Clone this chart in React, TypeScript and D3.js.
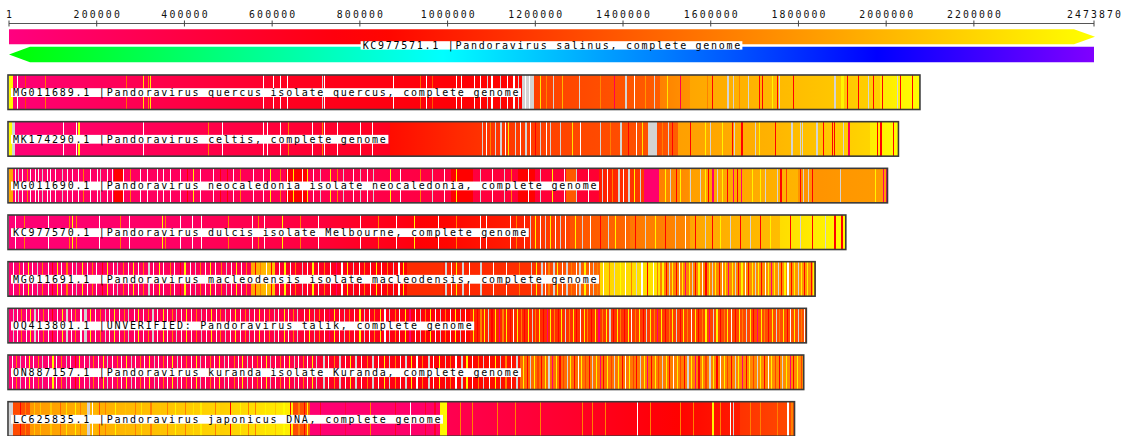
import React from 'react';
import * as d3 from 'd3';

// Reference genome and axis
const REF_NAME = 'KC977571.1 |Pandoravirus salinus, complete genome';
const REF_LEN = 2473870;
const tickValues = [1, 200000, 400000, 600000, 800000, 1000000, 1200000, 1400000, 1600000, 1800000, 2000000, 2200000, 2473870];
const tickLabels = ['1', '200000', '400000', '600000', '800000', '1000000', '1200000', '1400000', '1600000', '1800000', '2000000', '2200000', '2473870'];

// Compared genomes
const trackNames = [
  'MG011689.1 |Pandoravirus quercus isolate quercus, complete genome',
  'MK174290.1 |Pandoravirus celtis, complete genome',
  'MG011690.1 |Pandoravirus neocaledonia isolate neocaledonia, complete genome',
  'KC977570.1 |Pandoravirus dulcis isolate Melbourne, complete genome',
  'MG011691.1 |Pandoravirus macleodensis isolate macleodensis, complete genome',
  'OQ413801.1 |UNVERIFIED: Pandoravirus talik, complete genome',
  'ON887157.1 |Pandoravirus kuranda isolate Kuranda, complete genome',
  'LC625835.1 |Pandoravirus japonicus DNA, complete genome',
];
const trackLengthsKb = [2077, 2028, 2003, 1908, 1838, 1818, 1812, 1791];

// Special reference codes: no match / alignment break
const GAP = -1;
const BREAK = -2;

// Colinear blocks: [queryStartKb, queryEndKb, refStartKb, refEndKb]
// Short features: [queryKb, refKb, widthKb?]
const quercusBlocks = [
  [0, 8, 2440, 2460], [8, 595, 60, 560], [595, 1170, 600, 860], [1170, 1196, GAP, GAP],
  [1196, 1484, 1230, 1420], [1484, 1552, 1650, 1780], [1552, 1985, 1900, 2170], [1985, 2077, 2330, 2470],
];
const quercusStripes = [
  [18, BREAK], [36, 1250], [82, 1600], [267, 1500], [305, 2300], [317, 1700], [322, 2350], [579, BREAK], [602, BREAK],
  [618, BREAK], [634, BREAK], [713, GAP], [718, BREAK], [875, BREAK], [937, 1500], [950, BREAK], [964, 1400],
  [1019, BREAK], [1030, BREAK], [1060, BREAK], [1073, BREAK], [1090, GAP, 3], [1100, BREAK], [1119, GAP, 3],
  [1135, BREAK], [1150, BREAK, 3], [1160, GAP, 3], [1177, BREAK], [1186, BREAK],
  [1210, 2300], [1225, 1650], [1240, GAP], [1260, 2000], [1300, GAP], [1347, 1700], [1380, 300], [1405, GAP, 3],
  [1425, BREAK], [1450, 1800], [1470, GAP], [1500, 2300], [1530, 300],
  [1591, 1650], [1602, 830], [1636, GAP, 6], [1650, GAP], [1664, 1650], [1684, GAP], [1709, 830], [1716, 830],
  [1739, 2400], [1750, 830], [1755, GAP], [1787, 830], [1882, GAP], [1898, 2400, 6], [1910, 830, 3], [1935, 830],
  [1958, GAP], [1969, 830], [1990, 830], [2024, GAP], [2031, 830], [2058, 830],
];

const celtisBlocks = [
  [0, 7, 2440, 2460], [7, 14, GAP, GAP], [14, 868, 60, 620], [868, 1075, 900, 1150], [1075, 1234, 1150, 1250],
  [1234, 1456, 1250, 1350], [1456, 1477, GAP, GAP], [1477, 1525, 1300, 1450], [1525, 1745, 1850, 1980],
  [1745, 1963, 2000, 2200], [1963, 2028, 2350, 2460],
];
const celtisStripes = [
  [123, BREAK], [153, BREAK], [157, 2400, 6], [305, BREAK], [454, 1650], [485, BREAK], [579, BREAK], [588, BREAK],
  [618, BREAK], [636, 1650], [691, BREAK], [713, 1650], [718, BREAK], [748, BREAK], [800, BREAK], [827, BREAK],
  [1078, GAP, 3], [1087, BREAK], [1096, 1650], [1107, GAP, 3], [1119, GAP, 5], [1130, BREAK], [1137, 2300],
  [1153, GAP, 3], [1164, BREAK], [1176, GAP, 5], [1187, BREAK], [1199, 830], [1210, GAP, 3], [1224, BREAK], [1233, GAP, 3],
  [1256, GAP], [1283, 2300], [1301, BREAK], [1347, GAP, 3], [1370, 1650], [1392, GAP, 5], [1411, 830], [1429, BREAK], [1443, 2300],
  [1488, 1650], [1502, GAP], [1511, 830],
  [1552, 830], [1586, 2400], [1598, GAP], [1625, 2400], [1648, 830], [1652, GAP], [1670, 830], [1700, GAP], [1709, 2400],
  [1746, 830], [1784, GAP], [1803, GAP], [1807, GAP], [1841, GAP, 3], [1855, 830], [1876, 830], [1880, 830], [1901, GAP], [1914, 300],
  [1980, 830], [1987, 830], [2015, 830],
];

const neocaledoniaBlocks = [
  [0, 9, 1900, 1900], [9, 1346, 120, 500], [1346, 1447, 1000, 1200], [1447, 1482, 120, 120],
  [1482, 1550, 1650, 1750], [1550, 1800, 1850, 1990], [1800, 2003, 1770, 1830],
];
const neocaledoniaStripes = [
  [240, 830, 20], [631, 830, 50], [1007, 830, 50], [1160, 830, 40], [1271, 1400, 25],
  [14, BREAK], [21, GAP], [30, BREAK], [41, 1650], [48, BREAK], [59, BREAK], [66, BREAK], [75, GAP], [87, BREAK],
  [93, BREAK], [105, BREAK], [121, GAP], [132, BREAK], [144, BREAK], [157, BREAK], [169, 1650], [185, BREAK],
  [201, BREAK], [207, GAP], [223, BREAK], [235, BREAK], [260, BREAK], [276, 1650], [299, BREAK], [314, BREAK],
  [337, BREAK], [351, BREAK], [367, BREAK], [390, BREAK], [406, 830], [419, 2400], [435, BREAK], [465, BREAK],
  [481, 830], [497, 830], [510, BREAK], [526, 1650], [556, BREAK], [579, BREAK], [595, 2400], [618, 1650],
  [634, BREAK], [647, 2400], [668, BREAK], [679, 2400], [693, BREAK], [709, GAP], [732, 2400], [748, 1650],
  [761, GAP], [784, BREAK], [800, GAP], [816, BREAK], [830, GAP],
  [868, 2400], [891, BREAK], [937, 1650], [964, GAP], [991, BREAK], [1019, 2400], [1046, 830], [1073, GAP],
  [1101, BREAK], [1128, GAP], [1145, 1650], [1183, BREAK], [1210, GAP], [1238, 2400], [1265, BREAK], [1292, GAP], [1320, BREAK],
  [1351, GAP, 4], [1363, BREAK], [1374, 1650], [1388, GAP, 4], [1399, BREAK], [1411, GAP, 4], [1424, 2400], [1438, GAP, 4],
  [1495, 2400], [1506, GAP], [1520, 830], [1529, 2400], [1552, GAP], [1575, GAP], [1586, 2400], [1593, 830],
  [1604, 100], [1614, GAP], [1625, 2400], [1636, 830], [1650, 100], [1659, 830], [1668, 100], [1693, 2400],
  [1712, 2400], [1723, GAP], [1750, GAP], [1759, 830], [1771, 1250], [1803, 830], [1810, GAP], [1821, GAP],
  [1830, 830], [1894, GAP], [1974, 2400], [1992, 200, 3], [1999, 200],
];

const dulcisBlocks = [
  [0, 435, 60, 200], [435, 732, 250, 450], [732, 937, 500, 760], [937, 1187, 800, 1050], [1187, 1279, 1150, 1250],
  [1279, 1415, 1350, 1500], [1415, 1552, 1600, 1700], [1552, 1757, 1900, 2050], [1757, 1908, 2250, 2450],
];
const dulcisStripes = [
  [14, BREAK], [34, 1650], [89, BREAK], [137, 1650], [144, 2400], [153, 1650], [205, BREAK], [253, 1650],
  [273, BREAK], [349, 2400, 3], [356, 1650], [390, BREAK], [417, BREAK],
  [438, BREAK], [499, 1650], [554, BREAK], [567, 1650], [581, BREAK], [622, 2400], [663, 1650], [704, BREAK],
  [800, BREAK], [841, 1650], [882, BREAK], [923, 2400, 3],
  [978, BREAK], [1019, 1650], [1073, BREAK], [1087, BREAK], [1142, BREAK], [1155, 1650], [1174, BREAK],
  [1187, GAP], [1199, 2400], [1210, BREAK], [1222, GAP], [1233, 2400], [1244, BREAK], [1256, GAP], [1267, BREAK],
  [1290, 2400], [1306, GAP], [1324, BREAK], [1347, 830], [1365, GAP], [1381, 2400], [1404, BREAK],
  [1427, 830], [1450, GAP], [1472, 2400], [1495, 830], [1518, GAP], [1541, BREAK],
  [1563, 830], [1586, GAP], [1602, 830], [1620, 2400], [1643, GAP], [1666, 830], [1689, GAP], [1712, 830], [1734, 2400],
  [1780, 830], [1803, GAP], [1830, 830], [1860, GAP], [1882, 830], [1898, 830], [1905, 200],
];

const macleodensisBlocks = [
  [0, 552, 100, 300], [552, 606, 1900, 2100], [606, 907, 500, 800], [907, 989, 1100, 1120],
  [989, 1210, 1050, 1150], [1210, 1347, 1250, 1500], [1347, 1484, 2200, 2300], [1484, 1838, 1650, 1800],
];
const macleodensisStripes = [
  [10, BREAK], [22, 1650], [31, BREAK], [44, 2400], [52, BREAK], [63, GAP], [75, 1650], [88, BREAK], [97, 830],
  [109, 2400], [118, BREAK], [131, 1650], [143, BREAK], [152, GAP, 4], [166, 2400], [177, BREAK], [189, 1650],
  [198, BREAK], [212, 830], [223, 2400], [236, BREAK], [247, GAP], [259, 1650], [271, BREAK], [282, 2400],
  [294, BREAK], [305, 1650], [318, GAP, 4], [329, BREAK], [341, 2400], [352, BREAK], [366, 1650], [377, BREAK],
  [389, 830], [400, 2400], [413, BREAK], [424, GAP], [436, 1650], [447, BREAK], [459, 2400], [470, BREAK],
  [483, 1650], [494, GAP], [506, BREAK], [517, 2400], [529, BREAK], [540, 1650],
  [560, 830], [572, 1650], [585, BREAK], [597, 830],
  [615, BREAK], [628, 2400], [640, BREAK], [653, 1650], [667, GAP], [679, BREAK], [692, 2400], [705, BREAK],
  [718, 1650], [731, BREAK], [745, 100], [758, BREAK], [771, 2400], [784, GAP], [797, BREAK], [810, 1650],
  [823, BREAK], [836, 2400], [849, BREAK], [862, 1650], [875, GAP], [888, BREAK], [899, 2400],
  [995, GAP, 4], [1008, BREAK], [1020, 2400], [1033, GAP, 4], [1048, BREAK], [1075, GAP], [1104, BREAK],
  [1133, BREAK], [1162, 1650], [1190, GAP], [1202, 2400],
  [1212, GAP, 5], [1222, BREAK], [1230, 1650], [1240, GAP, 4], [1250, 2400], [1260, BREAK], [1270, GAP, 4],
  [1282, 1650], [1292, BREAK], [1300, GAP, 5], [1312, 2400], [1322, BREAK], [1332, GAP], [1340, 1650],
  [1355, BREAK], [1368, 1650], [1380, GAP], [1393, 2470], [1405, BREAK], [1418, 1650], [1430, GAP], [1442, BREAK],
  [1455, 830], [1468, BREAK], [1478, 1650],
  [1490, 2400], [1497, 830], [1505, GAP], [1512, 2400], [1520, 830], [1527, BREAK], [1535, 2400], [1542, 100],
  [1550, 2400], [1558, GAP], [1565, 830], [1572, 2400], [1580, BREAK], [1588, 830], [1595, 2400], [1603, GAP],
  [1610, 2400], [1618, 830], [1625, BREAK], [1633, 2400], [1640, 100], [1648, 2400], [1655, GAP], [1663, 830],
  [1670, 2400], [1678, BREAK], [1685, 830], [1693, 2400], [1700, GAP], [1708, 2400], [1715, 830], [1723, BREAK],
  [1730, 2400], [1738, 100], [1745, 2400], [1753, GAP], [1760, 830], [1768, 2400], [1775, BREAK], [1783, 830],
  [1790, 2400], [1798, GAP], [1805, 2400], [1813, 830], [1820, 2400], [1828, 830], [1833, 2400],
];

const talikBlocks = [
  [0, 663, 80, 400], [663, 1051, 500, 850], [1051, 1818, 1050, 1350],
];
const talikStripes = [
  [8, GAP], [18, BREAK], [27, 1650], [38, BREAK], [47, 2400], [58, GAP], [66, BREAK], [77, 1650], [89, BREAK],
  [98, 830], [110, BREAK], [120, 2400], [131, GAP], [142, BREAK], [150, 1650], [163, BREAK], [172, GAP, 5],
  [185, 2400], [196, BREAK], [207, 1650], [219, GAP], [228, BREAK], [240, 2400], [251, BREAK], [262, 1650],
  [272, GAP], [284, BREAK], [295, 2400], [306, BREAK], [316, 1650], [327, GAP], [338, BREAK], [350, 2400],
  [360, BREAK], [372, 1650], [381, GAP], [393, BREAK], [404, 2400], [415, BREAK], [426, 1650], [437, GAP],
  [449, BREAK], [460, 2400], [471, BREAK], [482, 1650], [492, GAP], [503, BREAK], [515, 2400], [526, BREAK],
  [537, 1650], [548, GAP], [559, BREAK], [570, 2400], [582, BREAK], [593, 1650], [604, GAP], [614, BREAK],
  [626, 2400], [637, BREAK], [648, 1650], [657, GAP],
  [672, BREAK], [684, 2400], [695, GAP], [707, 1650], [718, BREAK], [730, 100], [741, 2400], [752, BREAK],
  [764, GAP], [776, 1650], [787, BREAK], [799, 2400], [810, GAP], [821, BREAK], [833, 1650], [845, 2400],
  [856, BREAK], [867, GAP], [879, 1650], [890, BREAK], [902, 2400], [913, 100], [925, BREAK], [936, GAP],
  [948, 1650], [959, 2400], [971, BREAK], [982, GAP], [994, 1650], [1005, BREAK], [1017, 2400], [1028, GAP], [1040, BREAK],
  [1058, 2400], [1066, 830], [1075, 1650], [1083, 2400], [1092, GAP], [1100, 830], [1108, 2400], [1117, 100],
  [1125, 1650], [1133, 2400], [1142, 830], [1150, BREAK], [1158, 2400], [1167, 1650], [1175, 830], [1184, 2400],
  [1192, GAP], [1200, 1650], [1209, 2400], [1217, 830], [1226, 100], [1234, 2400], [1243, 1650], [1251, 830],
  [1259, 2400], [1268, GAP], [1276, 1650], [1285, 2400], [1293, 830], [1302, BREAK], [1310, 2400], [1318, 1650],
  [1327, 830], [1335, 2400], [1344, 100], [1352, 1650], [1361, 2400], [1369, GAP], [1377, 830], [1386, 2400],
  [1394, 1650], [1403, 830], [1411, 2400], [1419, BREAK], [1428, 1650], [1436, 2400], [1445, 830], [1453, GAP],
  [1462, 2400], [1470, 1650], [1478, 100], [1487, 2400], [1495, 830], [1504, 1650], [1512, 2400], [1521, GAP],
  [1529, 830], [1537, 2400], [1546, 1650], [1554, BREAK], [1563, 2400], [1571, 830], [1579, 1650], [1588, 2400],
  [1596, 100], [1605, GAP], [1613, 2400], [1622, 830], [1630, 1650], [1638, 2400], [1647, BREAK], [1655, 830],
  [1664, 2400], [1672, 1650], [1680, GAP], [1689, 2400], [1697, 830], [1706, 100], [1714, 2400], [1722, 1650],
  [1731, 830], [1739, 2400], [1748, GAP], [1756, 1650], [1765, 2400], [1773, 830], [1781, BREAK], [1790, 2400],
  [1798, GAP], [1806, 1650], [1813, BREAK],
];

const kurandaBlocks = [
  [0, 709, 80, 380], [709, 1165, 550, 950], [1165, 1812, 1500, 1750],
];
const kurandaStripes = [
  [6, BREAK], [16, 1650], [25, GAP], [37, BREAK], [46, 2400], [55, BREAK], [67, 1650], [76, GAP], [88, BREAK],
  [99, 2400], [108, BREAK], [118, 1650], [130, GAP], [139, BREAK], [151, 830], [160, 2400], [171, BREAK],
  [182, GAP], [192, 1650], [203, BREAK], [214, 2400], [224, GAP], [235, BREAK], [246, 1650], [255, BREAK],
  [266, 2400], [278, GAP], [287, BREAK], [299, 1650], [308, BREAK], [319, 2400], [331, GAP], [340, BREAK],
  [352, 1650], [361, BREAK], [372, 2400], [383, GAP], [393, BREAK], [404, 1650], [414, BREAK], [426, 2400],
  [436, GAP], [447, BREAK], [458, 1650], [468, BREAK], [479, 2400], [490, GAP], [500, BREAK], [512, 1650],
  [521, BREAK], [532, 2400], [543, GAP], [553, BREAK], [565, 1650], [574, BREAK], [585, 2400], [596, GAP],
  [606, BREAK], [617, 1650], [627, BREAK], [638, 2400], [649, GAP], [659, BREAK], [670, 1650], [680, BREAK],
  [691, 2400], [700, GAP],
  [715, GAP, 5], [728, BREAK], [740, 1650], [752, GAP, 6], [765, BREAK], [778, 2400], [790, GAP], [803, BREAK],
  [816, 1650], [828, GAP, 5], [841, BREAK], [854, 2400], [866, GAP], [879, 1650], [891, BREAK], [904, GAP],
  [917, 2400], [929, BREAK], [942, 1650], [955, GAP, 5], [967, BREAK], [980, 2400], [993, GAP], [1005, 1650],
  [1018, BREAK], [1031, GAP, 5], [1043, 2400], [1056, BREAK], [1069, 1650], [1081, GAP], [1094, BREAK],
  [1107, 2400], [1119, GAP], [1132, 1650], [1145, BREAK], [1157, GAP],
  [1172, 2400], [1180, 830], [1188, GAP], [1197, 2400], [1205, 1250], [1213, 830], [1222, 2400], [1230, GAP],
  [1238, 100], [1247, 2400], [1255, 830], [1263, 1250], [1272, GAP], [1280, 2400], [1288, 830], [1297, BREAK],
  [1305, 2400], [1313, 1250], [1322, 830], [1330, GAP], [1338, 2400], [1347, 100], [1355, 830], [1363, 2400],
  [1372, 1250], [1380, GAP], [1388, 2400], [1397, 830], [1405, BREAK], [1413, 2400], [1422, 1250], [1430, 830],
  [1438, GAP], [1447, 2400], [1455, 100], [1463, 830], [1472, 2400], [1480, 1250], [1488, GAP], [1497, 2400],
  [1505, 830], [1513, BREAK], [1522, 2400], [1530, 1250], [1538, 830], [1547, GAP], [1555, 2400], [1563, 100],
  [1572, 830], [1580, 2400], [1588, 1250], [1597, GAP], [1605, 2400], [1613, 830], [1622, BREAK], [1630, 2400],
  [1638, 1250], [1647, 830], [1655, GAP], [1663, 2400], [1672, 100], [1680, 830], [1688, 2400], [1697, 1250],
  [1705, GAP], [1713, 2400], [1722, 830], [1730, BREAK], [1738, 2400], [1747, 1250], [1755, 830], [1763, GAP],
  [1772, 2400], [1780, 100], [1788, 830], [1797, 2400], [1805, 1250],
];

const japonicusBlocks = [
  [0, 9, GAP, GAP], [9, 48, 1300, 1350], [48, 200, 1800, 2000], [200, 480, 1950, 2200], [480, 648, 2150, 2380],
  [648, 686, 1300, 1400], [686, 982, 80, 160], [982, 998, 2400, 2450], [998, 1301, 300, 550],
  [1301, 1529, 600, 830], [1529, 1666, 850, 1000], [1666, 1791, 1150, 1300],
];
const japonicusStripes = [
  [25, 830], [36, 1650], [56, 2100, 4], [71, 2100], [93, 2100, 4], [116, 1500], [130, 2300], [150, 2400],
  [162, 1650], [178, GAP, 6], [189, BREAK], [205, 1300], [219, 1650], [242, 2400], [264, 2100], [287, 1650],
  [300, 2300], [321, 1650, 6], [344, 2100], [360, 1650], [378, 2400], [401, 1650], [420, 2300], [435, 2350, 5],
  [469, 1650], [504, 830], [526, 2400], [545, 1650], [561, 1650], [583, 2400], [606, 2100], [624, 2450, 5],
  [640, 830], [660, 1650], [672, 830], [680, 2400],
  [709, 600], [766, 400], [823, 1650], [880, 600], [914, BREAK], [948, 600], [970, 600],
  [1028, 1650], [1055, 1650], [1112, 1650], [1153, 1650], [1210, 1650],
  [1306, 1650], [1329, 1650], [1358, 1650], [1431, BREAK], [1461, 1650],
  [1529, 1650], [1560, 1650], [1604, 2400], [1620, 1650],
  [1643, BREAK], [1650, GAP], [1689, 1650], [1712, 1650], [1750, 1650], [1775, BREAK], [1784, 1650],
];

const trackBlocks = [quercusBlocks, celtisBlocks, neocaledoniaBlocks, dulcisBlocks, macleodensisBlocks, talikBlocks, kurandaBlocks, japonicusBlocks];
const trackStripes = [quercusStripes, celtisStripes, neocaledoniaStripes, dulcisStripes, macleodensisStripes, talikStripes, kurandaStripes, japonicusStripes];

const WIDTH = 1123;
const HEIGHT = 436;
const MONO = '"DejaVu Sans Mono", "Liberation Mono", monospace';
const CHAR_W = 7.8;

const x = d3.scaleLinear().domain([1, REF_LEN]).range([9, 1094]);
const fwdHue = d3.scaleLinear().domain([0, REF_LEN]).range([330, 420]);
const revHue = d3.scaleLinear().domain([0, REF_LEN]).range([120, 270]);
const hueColor = (h: number) => d3.hsl(h % 360, 1, 0.5).formatHex();

function refColor(rKb: number): string {
  if (rKb === GAP) return '#d3d3d3';
  if (rKb === BREAK) return '#ffffff';
  return hueColor(fwdHue(rKb * 1000));
}

const gradStops = d3.range(0, 1.0001, 0.05);

export default function App() {
  const trackTop = (i: number) => 75 + i * 46.67;
  const trackH = 34.5;

  return (
    <svg width={WIDTH} height={HEIGHT} style={{ position: 'absolute', left: 0, top: 0, background: '#fff' }}>
      <defs>
        <linearGradient id="fwd" gradientUnits="userSpaceOnUse" x1={x(1)} x2={x(REF_LEN)} y1={0} y2={0}>
          {gradStops.map((t) => (
            <stop key={t} offset={t} stopColor={hueColor(fwdHue(t * REF_LEN))} />
          ))}
        </linearGradient>
        <linearGradient id="rev" gradientUnits="userSpaceOnUse" x1={x(1)} x2={x(REF_LEN)} y1={0} y2={0}>
          {gradStops.map((t) => (
            <stop key={t} offset={t} stopColor={hueColor(revHue(t * REF_LEN))} />
          ))}
        </linearGradient>
        {trackBlocks.map((blocks, ti) =>
          blocks.map((b, bi) => (
            <linearGradient key={`${ti}-${bi}`} id={`b${ti}-${bi}`} x1="0" x2="1" y1="0" y2="0">
              {[0, 0.25, 0.5, 0.75, 1].map((t) => (
                <stop key={t} offset={t} stopColor={b[2] < 0 ? refColor(b[2]) : refColor(b[2] + (b[3] - b[2]) * t)} />
              ))}
            </linearGradient>
          ))
        )}
        {trackLengthsKb.map((len, ti) => (
          <clipPath key={ti} id={`clip${ti}`}>
            <rect x={8} y={trackTop(ti)} width={x(len * 1000) - 8} height={trackH} />
          </clipPath>
        ))}
      </defs>

      {/* axis */}
      <line x1={x(1)} x2={x(REF_LEN)} y1={23.5} y2={23.5} stroke="#555" strokeWidth={1.2} />
      {tickValues.map((v, i) => (
        <g key={v}>
          <line x1={x(v)} x2={x(v)} y1={20.5} y2={26.5} stroke="#444" strokeWidth={1} />
          <text
            x={x(v)}
            y={18.3}
            textAnchor="middle"
            fontFamily={MONO}
            fontSize={9.8}
            fill="#111"
            textLength={tickLabels[i].length * 7.7}
            lengthAdjust="spacing"
          >
            {tickLabels[i]}
          </text>
        </g>
      ))}

      {/* reference genome, both strands */}
      <path
        d={`M${x(1)},29.3 H1074 L1095,36.8 L1074,44.3 H${x(1)} Z`}
        fill="url(#fwd)"
      />
      <path
        d={`M${x(REF_LEN)},46.7 V62.3 H30 L${x(1)},54.5 L30,46.7 Z`}
        fill="url(#rev)"
      />
      <rect
        x={(x(1) + x(REF_LEN)) / 2 - (REF_NAME.length * 7.75) / 2 - 1}
        y={41.2}
        width={REF_NAME.length * 7.75 + 2}
        height={8.4}
        fill="#fff"
      />
      <text
        x={(x(1) + x(REF_LEN)) / 2 - (REF_NAME.length * 7.75) / 2 + 1}
        y={48.7}
        fontFamily={MONO}
        fontSize={10}
        fill="#000"
        textLength={REF_NAME.length * 7.75 - 2}
        lengthAdjust="spacing"
      >
        {REF_NAME}
      </text>

      {/* compared genomes */}
      {trackNames.map((name, ti) => {
        const top = trackTop(ti);
        const blocks = trackBlocks[ti];
        const stripes = trackStripes[ti];
        const endX = x(trackLengthsKb[ti] * 1000);
        return (
          <g key={name}>
            <g clipPath={`url(#clip${ti})`} shapeRendering="crispEdges">
              <rect x={8} y={top} width={endX - 8} height={trackH} fill="#fff" />
              {blocks.map((b, bi) => (
                <rect
                  key={bi}
                  x={x(b[0] * 1000)}
                  y={top}
                  width={Math.max(1, x(b[1] * 1000) - x(b[0] * 1000) + 0.5)}
                  height={trackH}
                  fill={`url(#b${ti}-${bi})`}
                />
              ))}
              {stripes.map((s, si) => {
                const w = (s[2] ?? 2.5) * 1000;
                return (
                  <rect
                    key={si}
                    x={x(s[0] * 1000)}
                    y={top}
                    width={Math.max(1, x(s[0] * 1000 + w) - x(s[0] * 1000))}
                    height={trackH}
                    fill={refColor(s[1])}
                  />
                );
              })}
            </g>
            <rect x={8} y={top} width={endX - 8} height={trackH} fill="none" stroke="#3a3a3a" strokeWidth={1.6} />
            <rect x={11} y={top + 13.2} width={name.length * CHAR_W + 3} height={8.8} fill="#fff" />
            <text
              x={13}
              y={top + 21}
              fontFamily={MONO}
              fontSize={10}
              fill="#000"
              textLength={name.length * CHAR_W - 1.5}
              lengthAdjust="spacing"
            >
              {name}
            </text>
          </g>
        );
      })}
    </svg>
  );
}
